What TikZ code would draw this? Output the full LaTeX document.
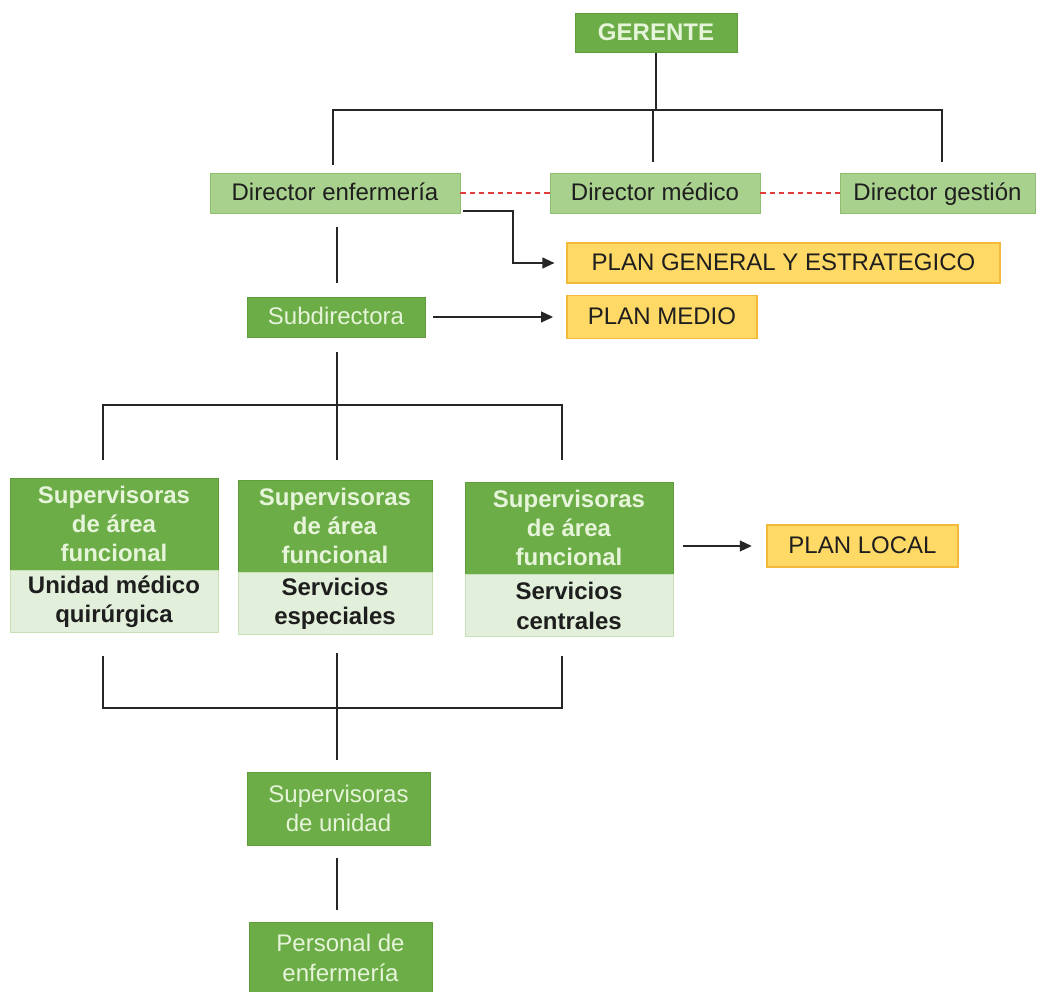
\documentclass[tikz,border=0pt]{standalone}
\usepackage{fontspec}
\setmainfont{Liberation Sans}
\usetikzlibrary{arrows.meta,calc}
\definecolor{dkg}{HTML}{6CAD47}
\definecolor{dkgb}{HTML}{5E9C3C}
\definecolor{lgt}{HTML}{E6F4DA}
\definecolor{lg}{HTML}{A9D18E}
\definecolor{lgb}{HTML}{8DBF6E}
\definecolor{pale}{HTML}{E2EFDA}
\definecolor{paleb}{HTML}{C8DFB8}
\definecolor{org}{HTML}{FFD966}
\definecolor{orgb}{HTML}{F2B93B}
\definecolor{txt}{HTML}{1E1E1E}
\definecolor{lin}{HTML}{262626}
\definecolor{dred}{HTML}{E23B3B}
\begin{document}
\begin{tikzpicture}[x=0.75pt,y=-0.75pt,
  box/.style={rectangle, inner sep=0pt, align=center, font=\fontsize{18}{22}\selectfont},
  boldbox/.style={rectangle, inner sep=0pt, align=center, font=\fontsize{18}{22}\selectfont\bfseries},
  single/.style={text height=14.5pt, text depth=3pt},
  dark/.style={fill=dkg, draw=dkgb, line width=0.6pt, text=lgt},
  light/.style={fill=lg, draw=lgb, line width=0.6pt, text=txt},
  pal/.style={fill=pale, draw=paleb, line width=0.6pt, text=txt},
  orng/.style={fill=org, draw=orgb, line width=0.8pt, text=txt},
  conn/.style={draw=lin, line width=1.5pt},
  arr/.style={conn, -{Triangle[length=9pt,width=8pt]}},
  dsh/.style={draw=dred, line width=1pt, dash pattern=on 4pt off 3pt}
]
\useasboundingbox[fill=white] (0,0) rectangle (1040,992);

% nodes
\node[boldbox, single, dark, minimum width=121.5pt, minimum height=29.25pt] (ger) at (656,33) {GERENTE};
\node[box, single, light, minimum width=187.5pt, minimum height=30pt] (de) at (335,193) {Director enfermería};
\node[box, single, light, minimum width=157.5pt, minimum height=30pt] (dm) at (655,193) {Director médico};
\node[box, single, light, minimum width=146.25pt, minimum height=30pt] (dg) at (937.5,193) {Director gestión};
\node[box, single, orng, minimum width=324.75pt, minimum height=30pt] (pge) at (783.5,263) {PLAN GENERAL Y ESTRATEGICO};
\node[box, single, dark, minimum width=133.5pt, minimum height=30pt] (sub) at (336,317) {Subdirectora};
\node[box, single, orng, minimum width=142.5pt, minimum height=32pt] (pm) at (662,317) {PLAN MEDIO};

\node[boldbox, dark, minimum width=156pt, minimum height=69pt] (s1t) at (114,524) {Supervisoras\\de área\\funcional};
\node[boldbox, pal, minimum width=156pt, minimum height=46.5pt, anchor=north] (s1b) at (s1t.south) {Unidad médico\\quirúrgica};
\node[boldbox, dark, minimum width=145.5pt, minimum height=69pt] (s2t) at (335,526) {Supervisoras\\de área\\funcional};
\node[boldbox, pal, minimum width=145.5pt, minimum height=46.5pt, anchor=north] (s2b) at (s2t.south) {Servicios\\especiales};
\node[boldbox, dark, minimum width=156pt, minimum height=69pt] (s3t) at (569,528) {Supervisoras\\de área\\funcional};
\node[boldbox, pal, minimum width=156pt, minimum height=46.5pt, anchor=north] (s3b) at (s3t.south) {Servicios\\centrales};
\node[box, single, orng, minimum width=143.25pt, minimum height=31.5pt] (pl) at (862.5,546) {PLAN LOCAL};

\node[box, dark, minimum width=137.25pt, minimum height=54.75pt] (su) at (338.5,808.5) {Supervisoras\\de unidad};
\node[box, dark, minimum width=137.25pt, minimum height=54pt] (pe) at (340.5,958) {Personal de\\enfermería};

% junction coordinates
\coordinate (j1) at (656,110);
\coordinate (jl) at (333,110);
\coordinate (jr) at (942,110);
\coordinate (jm) at (653,110);
\coordinate (c1) at (513,263);
\coordinate (k) at (337,405);
\coordinate (kl) at (103,405);
\coordinate (kr) at (562,405);
\coordinate (m) at (337,708);
\coordinate (ml) at (103,708);
\coordinate (mr) at (562,708);

% top tree
\draw[conn] (ger.south) -- (j1);
\draw[conn] ([xshift=-0.75pt]jl) -- ([xshift=0.75pt]jr);
\draw[conn, shorten >=6pt] (jl) -- (jl |- de.north);
\draw[conn, shorten >=8pt] (jm) -- (jm |- dm.north);
\draw[conn, shorten >=8pt] (jr) -- (jr |- dg.north);

% dashed links
\draw[dsh] (de.east) -- (dm.west);
\draw[dsh] (dm.east) -- (dg.west);

% arrows to plans
\draw[arr, shorten >=9pt] ([xshift=2pt,yshift=1.5pt]de.south east) -| (c1) -- (pge.west);
\draw[arr, shorten <=6pt, shorten >=10pt] (sub.east) -- (pm.west);
\draw[arr, shorten <=7.5pt, shorten >=11pt] (s3t.east |- pl.west) -- (pl.west);

% enfermeria to subdirectora
\draw[conn, shorten <=10.5pt, shorten >=10.5pt] ($(de.south)+(2,0)$) -- ($(sub.north)+(1,0)$);

% subdirectora tree
\draw[conn, shorten <=11pt, shorten >=15pt] ($(sub.south)+(1,0)$) -- ($(s2t.north)+(2,0)$);
\draw[conn] ([xshift=-0.75pt]kl) -- ([xshift=0.75pt]kr);
\draw[conn, shorten >=13.5pt] (kl) -- (kl |- s1t.north);
\draw[conn, shorten >=16.5pt] (kr) -- (kr |- s3t.north);

% bottom tree
\draw[conn, shorten <=17pt] (ml |- s1b.south) -- (ml);
\draw[conn, shorten <=14pt] (mr |- s3b.south) -- (mr);
\draw[conn] ([xshift=-0.75pt]ml) -- ([xshift=0.75pt]mr);
\draw[conn, shorten <=13.5pt, shorten >=9pt] ($(s2b.south)+(2,0)$) -- (m |- su.north);

% unidad to personal
\draw[conn, shorten <=9.75pt, shorten >=9pt] ($(su.south)+(-1.5,0)$) -- ($(pe.north)+(-3.5,0)$);
\end{tikzpicture}
\end{document}
